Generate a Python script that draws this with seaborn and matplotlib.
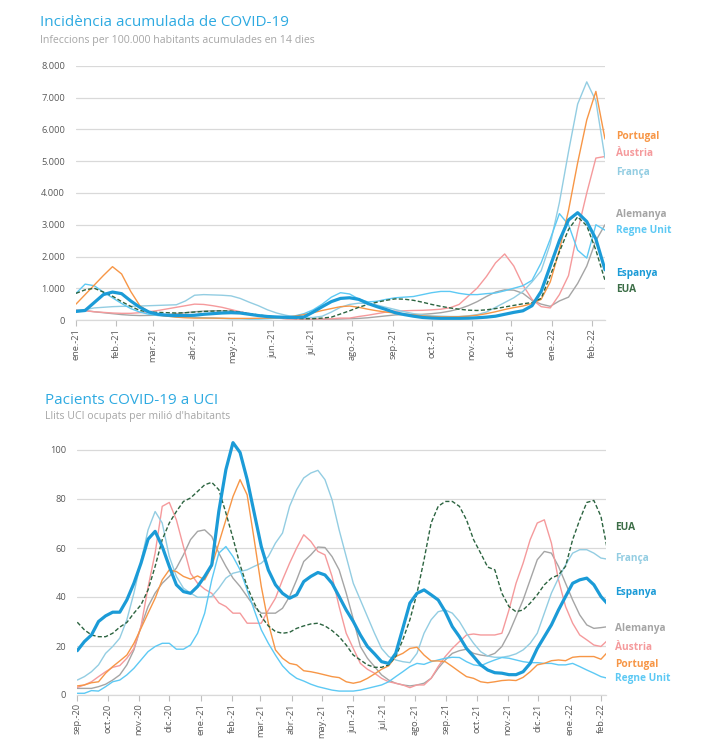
import pandas as pd
import seaborn as sns
import matplotlib.pyplot as plt
from matplotlib.ticker import FuncFormatter

sns.set_theme(style="white")
plt.rcParams['font.family'] = ['Open Sans', 'DejaVu Sans']

# --- Incidència acumulada (setmanal, des de l'1 de gener de 2021) ---
inc_dates = pd.date_range('2021-01-01', periods=59, freq='7D')
inc_espanya = [270, 300, 550, 800, 880, 830, 600, 400, 250, 180,
               150, 140, 140, 150, 180, 200, 220, 230, 220, 180,
               140, 110, 95, 85, 80, 95, 250, 420, 580, 680,
               700, 650, 520, 420, 330, 230, 170, 120, 80, 60,
               50, 50, 50, 55, 70, 90, 120, 180, 240, 290,
               450, 900, 1700, 2500, 3150, 3380, 3100, 2550, 1580]
inc_portugal = [500, 800, 1100, 1400, 1680, 1450, 900, 450, 250, 160,
                120, 90, 70, 60, 60, 60, 55, 50, 50, 50,
                55, 60, 70, 90, 120, 170, 230, 300, 360, 420,
                440, 400, 340, 290, 250, 220, 190, 160, 130, 110,
                100, 100, 105, 120, 150, 200, 260, 330, 390, 440,
                520, 650, 1200, 2200, 3450, 4950, 6300, 7200, 5700]
inc_eua = [840, 950, 1000, 880, 750, 580, 430, 300, 250, 240,
           230, 220, 230, 250, 270, 280, 290, 280, 250, 200,
           160, 120, 90, 70, 50, 40, 40, 60, 90, 190,
           290, 400, 490, 560, 620, 665, 655, 620, 560, 490,
           430, 380, 340, 310, 300, 320, 360, 410, 460, 510,
           550, 680, 1400, 2150, 2850, 3250, 2970, 2200, 1250]
inc_regne = [840, 1130, 1080, 880, 700, 520, 360, 250, 180, 140,
             120, 100, 90, 80, 70, 60, 50, 40, 40, 30,
             30, 40, 60, 90, 130, 200, 320, 500, 720, 860,
             820, 660, 570, 590, 650, 700, 720, 740, 800, 860,
             900, 900, 840, 800, 800, 830, 850, 920, 1000, 1080,
             1250, 1800, 2550, 3350, 3000, 2200, 1950, 3000, 2830]
inc_franca = [300, 330, 380, 400, 420, 430, 430, 440, 450, 460,
              470, 480, 600, 780, 800, 790, 780, 760, 680, 560,
              450, 320, 220, 150, 100, 80, 80, 120, 250, 400,
              490, 530, 520, 470, 400, 330, 260, 200, 160, 130,
              120, 110, 110, 130, 170, 250, 400, 550, 700, 900,
              1200, 1550, 2400, 3700, 5300, 6800, 7500, 6900, 5100]
inc_austria = [310, 290, 260, 240, 220, 210, 210, 230, 260, 300,
               350, 400, 450, 500, 490, 450, 400, 330, 260, 200,
               140, 90, 60, 40, 30, 30, 30, 30, 40, 60,
               60, 110, 150, 200, 250, 280, 290, 300, 305, 320,
               340, 385, 490, 750, 1010, 1370, 1800, 2080, 1700, 1100,
               650, 420, 380, 800, 1400, 2800, 4000, 5100, 5150]
inc_alemanya = [310, 300, 260, 230, 200, 170, 150, 140, 145, 150,
                170, 200, 230, 260, 280, 290, 290, 280, 240, 190,
                140, 100, 70, 40, 25, 20, 20, 20, 25, 30,
                40, 50, 70, 100, 130, 160, 170, 170, 180, 200,
                230, 280, 350, 450, 580, 740, 880, 950, 940, 840,
                620, 500, 430, 600, 720, 1150, 1700, 2500, 3000]

# --- Pacients a UCI (setmanal, des de l'1 de setembre de 2020) ---
uci_dates = pd.date_range('2020-09-01', periods=76, freq='7D')
uci_espanya = [18.1, 21.8, 24.5, 30, 32.3, 33.8, 33.8, 38.8, 45.6, 53.8,
               63.6, 66.8, 60.6, 52.5, 45, 42.2, 41.5, 44.3, 48.4, 53.1,
               75, 92, 103, 99, 88, 74.3, 60.6, 51, 45, 41.5,
               39.5, 40.9, 46.3, 48.4, 50, 49, 45.6, 40.2, 34.7, 30,
               24.5, 19.8, 16.8, 13.6, 12.9, 17, 27.2, 37.5, 41.5, 42.9,
               40.9, 38.8, 34, 27.9, 23.8, 19, 15.7, 12.3, 10.2, 9.1,
               8.9, 8.3, 8.3, 9.5, 12.9, 19, 23.8, 28.6, 34.7, 40.2,
               45.6, 47, 47.7, 45, 40.2, 37]
uci_eua = [29.7, 26.6, 24.5, 23.8, 23.8, 25.2, 27.7, 29.6, 33.4, 36.8,
           42.9, 52.5, 63.4, 70.2, 74.9, 79, 80.4, 83.1, 85.8, 86.8,
           83.8, 74.3, 64, 53.1, 44.3, 37.5, 32, 28.2, 25.9, 25.2,
           25.6, 27.2, 28.2, 29, 29.3, 28.2, 26.3, 23.8, 20.4, 16.3,
           14.3, 12.3, 11.3, 11.3, 12.3, 15.7, 22.5, 30.7, 41.5, 55.2,
           70.2, 77, 79, 79, 77, 71.5, 63.4, 57.9, 52.2, 51.1,
           41.5, 36.1, 34, 34.7, 37.5, 40.9, 45, 47.7, 49, 52.5,
           63.4, 71.5, 78.6, 79.4, 72.9, 58]
uci_portugal = [3.7, 4.1, 5, 5.4, 8.9, 11.6, 13.9, 16.3, 21.1, 27.2,
                33.4, 39.5, 47, 51.1, 50.4, 48.4, 47.3, 48.6, 47, 52.5,
                62, 71.5, 81, 87.9, 81.7, 63.4, 44.3, 29.3, 18.4, 15,
                12.9, 12.3, 9.9, 9.5, 8.9, 8.2, 7.5, 7.1, 5.4, 4.8,
                5.4, 6.8, 8.6, 10.5, 11.9, 15.7, 17, 19, 19.5, 16.3,
                13.9, 13.9, 13.6, 11.6, 9.5, 7.5, 6.8, 5.4, 5, 5.4,
                5.9, 6.1, 5.9, 7.2, 9.5, 12.3, 12.9, 14, 14.3, 14,
                15.4, 15.7, 15.7, 15.7, 14.6, 17.7]
uci_austria = [3.1, 4.1, 5.4, 7.5, 9.5, 11.3, 12, 15, 19, 28,
               44, 58, 77, 78.6, 71.5, 60.6, 49.7, 45.6, 43.2, 41.5,
               37.6, 36.1, 33.4, 33.4, 29.3, 29.3, 29.3, 34.7, 39.5, 47,
               53.8, 60, 65.4, 62.7, 58.6, 57.2, 48.4, 36.1, 25.2, 19,
               12.9, 10.5, 8.9, 6.8, 5.4, 4.8, 4.1, 3, 4.1, 4.1,
               6.8, 11.6, 15.7, 19, 21.8, 24.5, 24.9, 24.5, 24.5, 24.5,
               25.2, 34.7, 45.6, 53.8, 63.4, 70.2, 71.5, 62, 47, 36.1,
               29.3, 24.5, 22.5, 20.4, 19.8, 22.5]
uci_alemanya = [2.7, 2.7, 2.7, 3.4, 4.4, 6.1, 8.2, 12.3, 18.4, 27.9,
                36.1, 41.6, 45.6, 48.4, 51.8, 57.2, 63.4, 66.8, 67.4, 64.7,
                57.9, 52.5, 47.7, 44.3, 40.2, 36.1, 33.4, 33.4, 33.4, 35.4,
                40.2, 47, 54.5, 57.2, 60.4, 60.2, 56.5, 51.1, 41.6, 31,
                19.8, 15, 11.6, 8.2, 6.1, 4.8, 4.1, 3.7, 4.1, 4.8,
                6.8, 10.9, 14.3, 17, 18.1, 18.7, 17, 16.3, 15.9, 17,
                19.8, 25.2, 32, 38.8, 47, 55.2, 58.6, 57.9, 52.5, 45.6,
                38.8, 32.7, 28.6, 27.2, 27.5, 27.9]
uci_franca = [6.1, 7.5, 9.5, 12.3, 17, 19.8, 23.2, 30.7, 41.6, 54.5,
              67.4, 74.9, 70.2, 56.5, 48.4, 43.6, 41.6, 39.9, 39.9, 40.2,
              43.6, 47.7, 49.7, 50.4, 51.1, 52.5, 53.8, 56.5, 62, 66.1,
              77, 83.8, 88.6, 90.6, 91.7, 87.9, 79.7, 67.4, 56.5, 45.6,
              38.8, 32, 25.2, 19, 15.7, 14.3, 13.6, 13.2, 17, 25.2,
              30.7, 34, 34.7, 33.4, 30, 25.2, 21.1, 17.7, 15.9, 15.4,
              15.4, 15.9, 16.8, 18.4, 21.1, 25.2, 33.4, 41.6, 47.7, 53.1,
              57.9, 59.3, 59.3, 57.9, 55.9, 55.4]
uci_regne = [0.7, 0.7, 1.8, 1.6, 3.4, 5.4, 6.1, 8.2, 10.9, 14.3,
             17.7, 19.8, 21.1, 21.1, 18.7, 18.7, 20.4, 25.2, 33.4, 47,
             57.9, 60.6, 56.5, 51.1, 42.9, 34.7, 26.6, 21.1, 16.3, 11.9,
             8.9, 6.8, 5.7, 4.4, 3.4, 2.7, 2, 1.6, 1.6, 1.6,
             2, 2.7, 3.4, 4.1, 5.4, 7.5, 9.5, 11.6, 12.9, 12.5,
             13.6, 14.3, 15, 15.4, 15.3, 13.6, 12.3, 11.9, 13.2, 14.3,
             15.3, 15, 14.3, 13.6, 13.2, 13.2, 12.9, 12.9, 12.3, 12.3,
             12.9, 11.6, 10.2, 8.9, 7.5, 6.8]

mesos = ['ene.', 'feb.', 'mar.', 'abr.', 'may.', 'jun.', 'jul.', 'ago.',
         'sep.', 'oct.', 'nov.', 'dic.']

colors = {
    'Espanya': '#1b9bd7',
    'EUA': '#2c6440',
    'Portugal': '#f79646',
    'Àustria': '#f59a9c',
    'França': '#93cde2',
    'Alemanya': '#a5a5a5',
    'Regne Unit': '#5dc9f4',
}
label_colors = dict(colors)
label_colors['EUA'] = '#3c6e47'

TITLE_C = '#2eaae1'
SUB_C = '#a6a6a6'
TICK_C = '#595959'
GRID_C = '#d9d9d9'

W, H = 701, 756
fig = plt.figure(figsize=(W / 100, H / 100), dpi=100)


def style_axis(ax, start, end, ylim, yticks, fmt):
    ax.set_xlim(pd.Timestamp(start), pd.Timestamp(end))
    ax.set_ylim(*ylim)
    ax.set_yticks(yticks)
    ax.yaxis.set_major_formatter(FuncFormatter(fmt))
    months = pd.date_range(start, end, freq='MS')
    ax.set_xticks(months)
    ax.set_xticklabels([f"{mesos[d.month - 1]}-{d.strftime('%y')}" for d in months],
                       rotation=90)
    ax.grid(axis='y', color=GRID_C, linewidth=0.9)
    ax.set_axisbelow(True)
    for s in ['top', 'right', 'left']:
        ax.spines[s].set_visible(False)
    ax.spines['bottom'].set_color(GRID_C)
    ax.spines['bottom'].set_linewidth(0.9)
    ax.tick_params(axis='x', length=4, width=0.8, color='#bfbfbf', pad=2,
                   labelsize=6.7, labelcolor=TICK_C, bottom=True)
    ax.tick_params(axis='y', length=0, pad=8, labelsize=6.7, labelcolor=TICK_C)
    ax.set_xlabel('')
    ax.set_ylabel('')


def draw(ax, dates, series):
    for name, vals in series:
        kw = dict(color=colors[name], linewidth=1.0)
        if name == 'Espanya':
            kw['linewidth'] = 2.3
        if name == 'EUA':
            kw['linestyle'] = (0, (3, 1.6))
            kw['linewidth'] = 1.0
        sns.lineplot(x=dates, y=vals, ax=ax, **kw)


# ---------- gràfic superior ----------
ax1 = fig.add_axes([76 / W, 1 - 320 / H, 529 / W, 254 / H])
draw(ax1, inc_dates, [('Alemanya', inc_alemanya), ('Àustria', inc_austria),
                      ('França', inc_franca), ('Regne Unit', inc_regne),
                      ('Portugal', inc_portugal), ('EUA', inc_eua),
                      ('Espanya', inc_espanya)])
style_axis(ax1, '2021-01-01', '2022-02-11', (0, 8000), range(0, 8001, 1000),
           lambda v, p: f"{int(v):,}".replace(',', '.'))

fig.text(40 / W, 1 - 22 / H, 'Incidència acumulada de COVID-19', color=TITLE_C,
         fontsize=11, va='center', ha='left')
fig.text(40 / W, 1 - 41 / H, 'Infeccions per 100.000 habitants acumulades en 14 dies',
         color=SUB_C, fontsize=7.6, va='center', ha='left')

for name, ypx in [('Portugal', 136), ('Àustria', 154), ('França', 172),
                  ('Alemanya', 215), ('Regne Unit', 231), ('Espanya', 273),
                  ('EUA', 290)]:
    fig.text(616 / W, 1 - ypx / H, name, color=label_colors[name], fontsize=7.3,
             fontweight='bold', va='center', ha='left')

# ---------- gràfic inferior ----------
ax2 = fig.add_axes([77.3 / W, 1 - 695 / H, 528.7 / W, 257.25 / H])
draw(ax2, uci_dates, [('Alemanya', uci_alemanya), ('Àustria', uci_austria),
                      ('França', uci_franca), ('Regne Unit', uci_regne),
                      ('Portugal', uci_portugal), ('EUA', uci_eua),
                      ('Espanya', uci_espanya)])
style_axis(ax2, '2020-09-01', '2022-02-06', (0, 105), range(0, 101, 20),
           lambda v, p: f"{int(v)}")

fig.text(45 / W, 1 - 400 / H, 'Pacients COVID-19 a UCI', color=TITLE_C,
         fontsize=11, va='center', ha='left')
fig.text(45 / W, 1 - 416 / H, "Llits UCI ocupats per milió d'habitants",
         color=SUB_C, fontsize=7.6, va='center', ha='left')

for name, ypx in [('EUA', 527), ('França', 558), ('Espanya', 593),
                  ('Alemanya', 629), ('Àustria', 647), ('Portugal', 665),
                  ('Regne Unit', 678)]:
    fig.text(615 / W, 1 - ypx / H, name, color=label_colors[name], fontsize=7.3,
             fontweight='bold', va='center', ha='left')

fig.savefig('out.png', dpi=100)
